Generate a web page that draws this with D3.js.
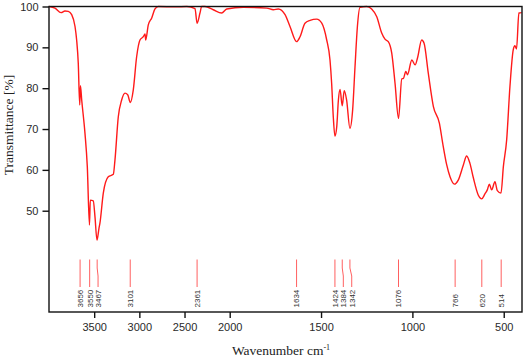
<!DOCTYPE html>
<html>
<head>
<meta charset="utf-8">
<script src="https://cdn.jsdelivr.net/npm/d3@7"></script>
<style>
  body { margin: 0; background: #fff; }
  svg { display: block; }
</style>
</head>
<body>
<svg width="524" height="361"></svg>
<script>
// spectrum
const wavenumbers = [4000, 3934, 3867, 3823, 3786, 3749, 3712, 3694, 3676, 3660, 3652, 3638, 3602, 3576,
  3552, 3543, 3510, 3491, 3469, 3447, 3436, 3399, 3344, 3288, 3270, 3233, 3196, 3159, 3129, 3100,
  3067, 3030, 2993, 2956, 2937, 2930, 2901, 2863, 2827, 2790, 2600, 2476, 2384, 2361, 2329, 2310,
  2274, 2182, 2089, 2033, 1926, 1797, 1761, 1734, 1697, 1670, 1634, 1615, 1588, 1560, 1524, 1496,
  1469, 1451, 1442, 1433, 1424, 1414, 1405, 1396, 1384, 1373, 1360, 1342, 1327, 1314, 1301, 1287,
  1250, 1223, 1195, 1168, 1150, 1132, 1113, 1095, 1076, 1058, 1049, 1036, 1027, 1003, 985, 972,
  949, 936, 913, 885, 852, 834, 812, 794, 770, 749, 721, 703, 685, 666, 639, 621, 603, 590, 579,
  566, 548, 535, 515, 502, 484, 466, 448, 439, 430, 417, 402];
const transmittance = [100, 99.6, 98.5, 98.9, 98.8, 98.0, 95.1, 91.8, 86.1, 75.9, 80.6, 77.1, 69, 60.8,
  46.5, 52.6, 52.4, 48.5, 42.8, 45.7, 47, 54.3, 58.3, 58.9, 62.4, 73, 77.1, 78.8, 78.4, 76.5,
  79.6, 87.7, 91.8, 92.6, 93.3, 91.8, 95.5, 97.2, 99.4, 100, 99.9, 100, 99.5, 95.9, 98.4, 100,
  100, 99.2, 98.4, 99.4, 99.8, 99.6, 99.2, 99.4, 98, 95.1, 91.4, 92.6, 95.9, 96.6, 96.9, 95.9,
  91.8, 86.9, 81.2, 73, 68.3, 70.6, 77.1, 79.7, 75.7, 79.4, 77.1, 70.2, 74.7, 85.3, 95.1, 99.8,
  100, 99.4, 97.5, 93.5, 92, 91.4, 88.6, 81.2, 72.6, 82.3, 82.4, 84.1, 83.3, 86.9, 85.7, 87.4,
  91.8, 91, 83.7, 75.5, 71.4, 66.5, 61.2, 58.3, 56.5, 57.5, 61.2, 63.4, 61.6, 58, 53.8, 52.9, 54.1, 55.1, 56.5,
  55.1, 57.1, 54.9, 54.3, 60.8, 67.3, 80.4, 89.4, 90.4, 89.6, 98.4, 98.5];

const peaks = [3656, 3550, 3467, 3101, 2361, 1634, 1424, 1384, 1342, 1076, 766, 620, 514];
const xTicks = [3500, 3000, 2500, 2000, 1500, 1000, 500];
const yTicks = [50, 60, 70, 80, 90, 100];

const data = wavenumbers.map((w, i) => ({ w: w, t: transmittance[i] }));

const svg = d3.select('svg');
const plotLeft = 49, plotRight = 522, plotTop = 6.5, plotBottom = 312;

// scale is compressed 2x above 2000 cm-1
const x = d3.scaleLinear()
  .domain([4000, 2000, 400])
  .range([plotLeft, 229.7, plotRight]);
const y = d3.scaleLinear()
  .domain([25.2, 100])
  .range([plotBottom, plotTop]);

const tickFont = 'Liberation Sans, Arial, sans-serif';
const titleFont = 'Liberation Serif, Times New Roman, serif';

// peak markers, labels pushed apart where they would overlap
const labelX = [];
peaks.map(p => x(p)).forEach((px, i) => {
  let lx = px;
  if (i > 0 && lx - labelX[i - 1] < 8.4) lx = labelX[i - 1] + 8.4;
  labelX.push(lx);
});

const pk = svg.append('g');
peaks.forEach((p, i) => {
  const px = x(p), lx = labelX[i];
  pk.append('path')
    .attr('d', `M${px},259.5 V268 L${lx},276 V287`)
    .attr('fill', 'none')
    .attr('stroke', '#ff6060')
    .attr('stroke-width', 1);
  pk.append('text')
    .attr('transform', `translate(${lx + 2.9},307.5) rotate(-90)`)
    .attr('font-family', tickFont)
    .attr('font-size', 8)
    .attr('fill', '#333')
    .text(p);
});

// spectrum
const line = d3.line()
  .x(d => x(d.w))
  .y(d => y(Math.min(d.t, 100)))
  .curve(d3.curveMonotoneX);

svg.append('path')
  .datum(data)
  .attr('fill', 'none')
  .attr('stroke', '#ff1a1a')
  .attr('stroke-width', 1.4)
  .attr('stroke-linejoin', 'round')
  .attr('d', line);

// frame
svg.append('rect')
  .attr('x', plotLeft).attr('y', plotTop)
  .attr('width', plotRight - plotLeft).attr('height', plotBottom - plotTop)
  .attr('fill', 'none')
  .attr('stroke', '#111')
  .attr('stroke-width', 1.4);

const xAxis = d3.axisBottom(x).tickValues(xTicks).tickFormat(d3.format('d'))
  .tickSize(6).tickPadding(5).tickSizeOuter(0);
const yAxis = d3.axisLeft(y).tickValues(yTicks).tickFormat(d3.format('d'))
  .tickSize(6.5).tickPadding(4).tickSizeOuter(0);

const xAxisG = svg.append('g').attr('transform', `translate(0,${plotBottom})`).call(xAxis);
const yAxisG = svg.append('g').attr('transform', `translate(${plotLeft},0)`).call(yAxis);

[xAxisG, yAxisG].forEach(g => {
  g.select('.domain').remove();
  g.selectAll('line').attr('stroke', '#111').attr('stroke-width', 1.4);
  g.selectAll('text')
    .attr('font-family', tickFont)
    .attr('font-size', 11)
    .attr('fill', '#2a2a2a');
});

// axis titles
svg.append('text')
  .attr('transform', 'translate(13,125) rotate(-90)')
  .attr('text-anchor', 'middle')
  .attr('font-family', titleFont)
  .attr('font-size', 13.5)
  .attr('fill', '#222')
  .text('Transmittance [%]');

const xt = svg.append('text')
  .attr('x', 281)
  .attr('y', 355)
  .attr('text-anchor', 'middle')
  .attr('font-family', titleFont)
  .attr('font-size', 13.5)
  .attr('fill', '#222');
xt.append('tspan').text('Wavenumber cm');
xt.append('tspan').attr('font-size', 8).attr('dy', -5).text('-1');
</script>
</body>
</html>
